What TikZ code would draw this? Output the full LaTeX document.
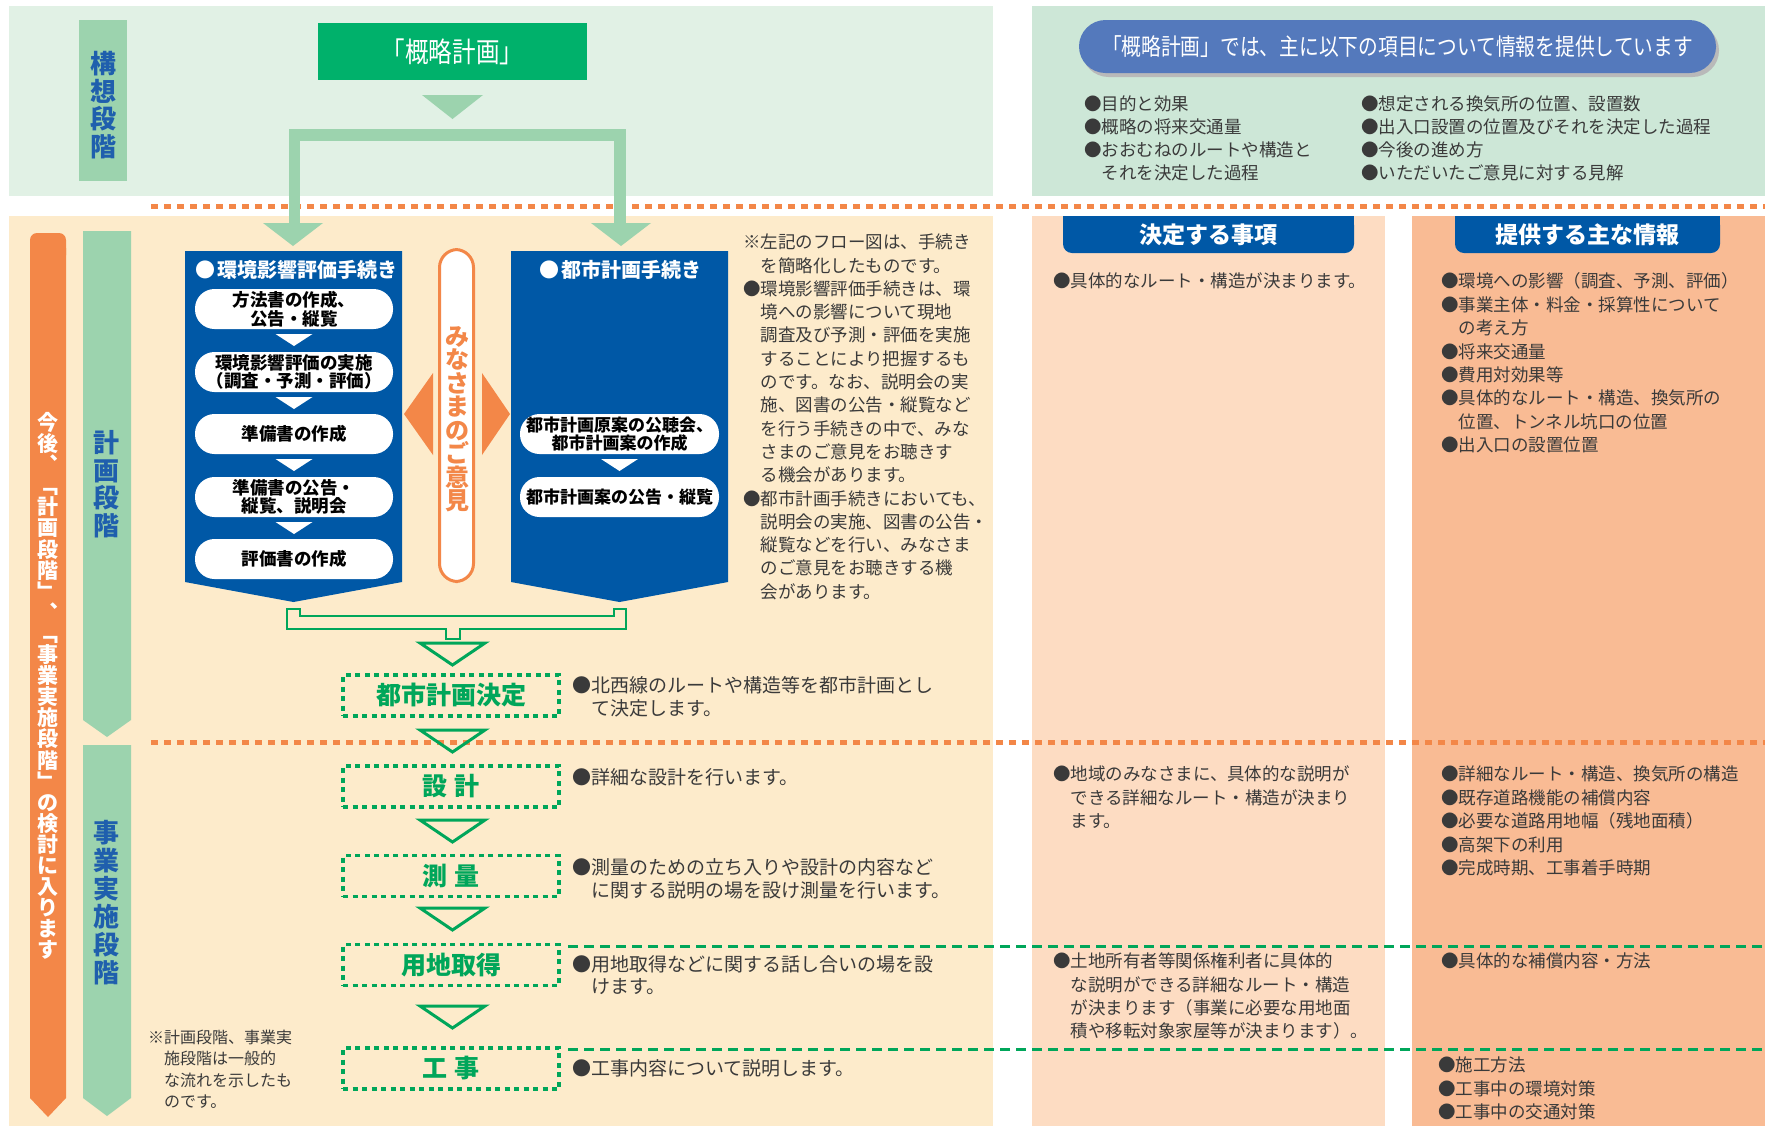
\documentclass[tikz,border=0pt]{standalone}
\usepackage{fontspec}
\setmainfont{Noto Sans CJK JP}
\newfontfamily\condjp[FakeStretch=0.84]{Noto Sans CJK JP}
\usetikzlibrary{calc}
\definecolor{cream}{HTML}{FDEBCB}
\definecolor{coltwo}{HTML}{FDDCC2}
\definecolor{colthree}{HTML}{F9BB94}
\definecolor{tlgreen}{HTML}{E1F1E5}
\definecolor{trgreen}{HTML}{CDE7D7}
\definecolor{barg}{HTML}{9CD3AE}
\definecolor{orng}{HTML}{F38748}
\definecolor{dblue}{HTML}{0058A6}
\definecolor{pblue}{HTML}{5479BC}
\definecolor{kgreen}{HTML}{00B16B}
\definecolor{dgreen}{HTML}{00A65A}
\definecolor{txt}{HTML}{3A3A3A}
\definecolor{stblue}{HTML}{1F5FAD}
\newcommand\fpx[2]{\fontsize{#1}{#2}\selectfont}
\begin{document}
\begin{tikzpicture}[x=1pt,y=-1pt,
  every node/.style={inner sep=0pt, outer sep=0pt},
  odots/.style={orng, line width=5pt, dash pattern=on 7pt off 6pt},
  gdash/.style={dgreen, line width=3pt, dash pattern=on 10pt off 6pt},
  gbox/.style={draw=dgreen, line width=3.5pt, dash pattern=on 5pt off 4.5pt, minimum width=216pt, minimum height=41pt, text=dgreen, font=\fpx{25}{27}\bfseries},
  gtri/.style={draw=dgreen, line width=3pt, line join=miter},
  pillw/.style={fill=white, rounded corners=19.5pt, minimum height=40pt, align=center, text=black, font=\fpx{17.5}{18.5}\bfseries},
  body/.style={anchor=north west, align=left, text=txt},
  vstage/.style={align=center, text=stblue, font=\fpx{26}{27.5}\bfseries},
  tabtxt/.style={text=white, font=\fpx{23}{25}\bfseries},
  boxtitle/.style={text=white, font=\fpx{20}{22}\bfseries},
]
\useasboundingbox (0,0) rectangle (1784,1128);
\fill[white] (0,0) rectangle (1784,1128);
% panels
\fill[tlgreen] (9,6) rectangle (993,196);
\fill[trgreen] (1032,6) rectangle (1765,196);
\fill[cream] (9,216) rectangle (993,1126);
\fill[coltwo] (1032,216) rectangle (1385,1126);
\fill[colthree] (1412,216) rectangle (1765,1126);
% separator lines
\draw[odots] (151,206) -- (1765,206);
\draw[odots] (151,742) -- (1765,742);
\draw[gdash] (568,946) -- (1765,946);
\draw[gdash] (568,1049) -- (1765,1049);
% stage bars
\fill[barg] (79,20) rectangle (127,181);
\node[vstage] (kousou) at (103,105) {構\\想\\段\\階};
\fill[barg] (83,231) -- (131,231) -- (131,720) -- (107,737) -- (83,720) -- cycle;
\node[vstage] (keikaku) at (106,484) {計\\画\\段\\階};
\fill[barg] (83,745) -- (131,745) -- (131,1098) -- (107,1116) -- (83,1098) -- cycle;
\node[vstage, font=\fpx{26}{28}\bfseries] (jigyou) at (106,903) {事\\業\\実\\施\\段\\階};
\fill[orng, rounded corners=7pt] (30,233) rectangle (66,262);
\fill[orng] (30,248) -- (30,1098) -- (48,1117) -- (66,1098) -- (66,248) -- cycle;
\node[align=center, text=white, font=\fpx{21}{21.1}\bfseries] (kongo) at (48,686) {今\\後\\︑\\﹁\\計\\画\\段\\階\\﹂\\︑\\﹁\\事\\業\\実\\施\\段\\階\\﹂\\の\\検\\討\\に\\入\\り\\ま\\す};
% top flow
\node[fill=kgreen, minimum width=269pt, minimum height=57pt, text=white, font=\condjp\fpx{28}{30}] (gairyaku) at (452.5,51.5) {「概略計画」};
\fill[barg] (422,95) -- (483,95) -- (452.5,119) -- cycle;
\fill[barg] (289,129) rectangle (626,141);
\fill[barg] (289,129) rectangle (300,224);
\fill[barg] (614,129) rectangle (626,224);
\fill[barg] (263,223) -- (323,223) -- (293,246) -- cycle;
\fill[barg] (591,223) -- (651,223) -- (621,246) -- cycle;
% blue procedure boxes
\fill[dblue] (185,251) -- (402,251) -- (402,582) -- (293.5,602) -- (185,582) -- cycle;
\fill[dblue] (511,251) -- (728,251) -- (728,582) -- (619.5,602) -- (511,582) -- cycle;
\node[boxtitle] (kankyo) at (296,270) {●\hspace{2pt}環境影響評価手続き};
\node[boxtitle] (toshi) at (620,270) {●\hspace{2pt}都市計画手続き};
\node[pillw, minimum width=198pt] (p1) at (294,309) {方法書の作成、\\公告・縦覧};
\node[pillw, minimum width=198pt] (p2) at (294,372) {環境影響評価の実施\\（調査・予測・評価）};
\node[pillw, minimum width=198pt] (p3) at (294,434) {準備書の作成};
\node[pillw, minimum width=198pt] (p4) at (294,497) {準備書の公告・\\縦覧、説明会};
\node[pillw, minimum width=198pt] (p5) at (294,559) {評価書の作成};
\foreach \t in {334,397,459,522} \fill[white] (275.5,\t) -- (312.5,\t) -- (294,\t+12) -- cycle;
\node[pillw, minimum width=199pt, font=\fpx{17}{18.5}\bfseries] (q1) at (619.5,434) {都市計画原案の公聴会、\\都市計画案の作成};
\node[pillw, minimum width=199pt, font=\fpx{17}{18.5}\bfseries] (q2) at (619.5,497) {都市計画案の公告・縦覧};
\fill[white] (601,459) -- (638,459) -- (619.5,471) -- cycle;
% opinions
\node[draw=orng, line width=3pt, fill=white, rounded corners=18pt, minimum width=34pt, minimum height=332pt] (minasama) at (456.5,415.5) {};
\node[align=center, text=orng, font=\fpx{24}{23.5}\bfseries] (iken) at (457,419) {み\\な\\さ\\ま\\の\\ご\\意\\見};
\fill[orng] (433,373) -- (433,455) -- (404,414) -- cycle;
\fill[orng] (482,373) -- (482,455) -- (510,414) -- cycle;
% merge bracket
\draw[dgreen, line width=2.5pt, fill=cream, line join=miter] (287,609) -- (300,609) -- (300,616) -- (614,616) -- (614,609) -- (626,609) -- (626,629) -- (460,629) -- (460,639) -- (446,639) -- (446,629) -- (287,629) -- cycle;
% green flow
\foreach \t in {643,730,820,908,1006} \draw[gtri] (420,\t) -- (485,\t) -- (452.5,\t+22) -- cycle;
\node[gbox] (kettei) at (451,695.5) {都市計画決定};
\node[gbox] (sekkei) at (451,786.5) {設\hspace{0.25em}計};
\node[gbox] (sokuryo) at (451,876) {測\hspace{0.25em}量};
\node[gbox] (youchi) at (451,965) {用地取得};
\node[gbox] (kouji) at (451,1068.5) {工\hspace{0.25em}事};
% descriptions
\node[body, font=\fpx{19}{23}] (d1) at (572,676) {●北西線のルートや構造等を都市計画とし\\\hspace*{1em}て決定します。};
\node[body, font=\fpx{19}{23}] (d2) at (572,768) {●詳細な設計を行います。};
\node[body, font=\fpx{19}{23}] (d3) at (572,859) {●測量のための立ち入りや設計の内容など\\\hspace*{1em}に関する説明の場を設け測量を行います。};
\node[body, font=\fpx{19}{22}] (d4) at (572,956) {●用地取得などに関する話し合いの場を設\\\hspace*{1em}けます。};
\node[body, font=\fpx{19}{23}] (d5) at (572,1059) {●工事内容について説明します。};
\node[body, font=\fpx{17.5}{23.3}] (note) at (743,234) {※左記のフロー図は、手続き\\\hspace*{1em}を簡略化したものです。\\●環境影響評価手続きは、環\\\hspace*{1em}境への影響について現地\\\hspace*{1em}調査及び予測・評価を実施\\\hspace*{1em}することにより把握するも\\\hspace*{1em}のです。なお、説明会の実\\\hspace*{1em}施、図書の公告・縦覧など\\\hspace*{1em}を行う手続きの中で、みな\\\hspace*{1em}さまのご意見をお聴きす\\\hspace*{1em}る機会があります。\\●都市計画手続きにおいても、\\\hspace*{1em}説明会の実施、図書の公告・\\\hspace*{1em}縦覧などを行い、みなさま\\\hspace*{1em}のご意見をお聴きする機\\\hspace*{1em}会があります。};
\node[body, font=\fpx{16}{21.5}] (fn) at (148,1030) {※計画段階、事業実\\\hspace*{1em}施段階は一般的\\\hspace*{1em}な流れを示したも\\\hspace*{1em}のです。};
% top right
\fill[gray!55, rounded corners=26.5pt] (1082,24) rectangle (1719,77);
\node[fill=pblue, rounded corners=26.5pt, minimum width=637pt, minimum height=53pt, text=white, font=\condjp\fpx{23.5}{25}] (info) at (1397.5,46.5) {「概略計画」では、主に以下の項目について情報を提供しています};
\node[body, font=\fpx{17.5}{23}] (l1) at (1084,96) {●目的と効果\\●概略の将来交通量\\●おおむねのルートや構造と\\\hspace*{1em}それを決定した過程};
\node[body, font=\fpx{17.5}{23}] (l2) at (1361,96) {●想定される換気所の位置、設置数\\●出入口設置の位置及びそれを決定した過程\\●今後の進め方\\●いただいたご意見に対する見解};
% tabs
\fill[dblue, rounded corners=9pt] (1063,216) rectangle (1354,253);
\fill[dblue] (1063,216) rectangle (1354,232);
\node[tabtxt] (tab1) at (1208.5,234.5) {決定する事項};
\fill[dblue, rounded corners=9pt] (1455,216) rectangle (1720,253);
\fill[dblue] (1455,216) rectangle (1720,232);
\node[tabtxt] (tab2) at (1587.5,234.5) {提供する主な情報};
% column 2
\node[body, font=\fpx{17.5}{23.3}] (c2a) at (1053,273) {●具体的なルート・構造が決まります。};
\node[body, font=\fpx{17.5}{23.3}] (c2b) at (1053,766) {●地域のみなさまに、具体的な説明が\\\hspace*{1em}できる詳細なルート・構造が決まり\\\hspace*{1em}ます。};
\node[body, font=\fpx{17.5}{23.3}] (c2c) at (1053,953) {●土地所有者等関係権利者に具体的\\\hspace*{1em}な説明ができる詳細なルート・構造\\\hspace*{1em}が決まります（事業に必要な用地面\\\hspace*{1em}積や移転対象家屋等が決まります）。};
% column 3
\node[body, font=\fpx{17.5}{23.4}] (c3a) at (1441,273) {●環境への影響（調査、予測、評価）\\●事業主体・料金・採算性について\\\hspace*{1em}の考え方\\●将来交通量\\●費用対効果等\\●具体的なルート・構造、換気所の\\\hspace*{1em}位置、トンネル坑口の位置\\●出入口の設置位置};
\node[body, font=\fpx{17.5}{23.5}] (c3b) at (1441,766) {●詳細なルート・構造、換気所の構造\\●既存道路機能の補償内容\\●必要な道路用地幅（残地面積）\\●高架下の利用\\●完成時期、工事着手時期};
\node[body, font=\fpx{17.5}{23.5}] (c3c) at (1441,953) {●具体的な補償内容・方法};
\node[body, font=\fpx{17.5}{23.5}] (c3d) at (1438,1057) {●施工方法\\●工事中の環境対策\\●工事中の交通対策};
\end{tikzpicture}
\end{document}
